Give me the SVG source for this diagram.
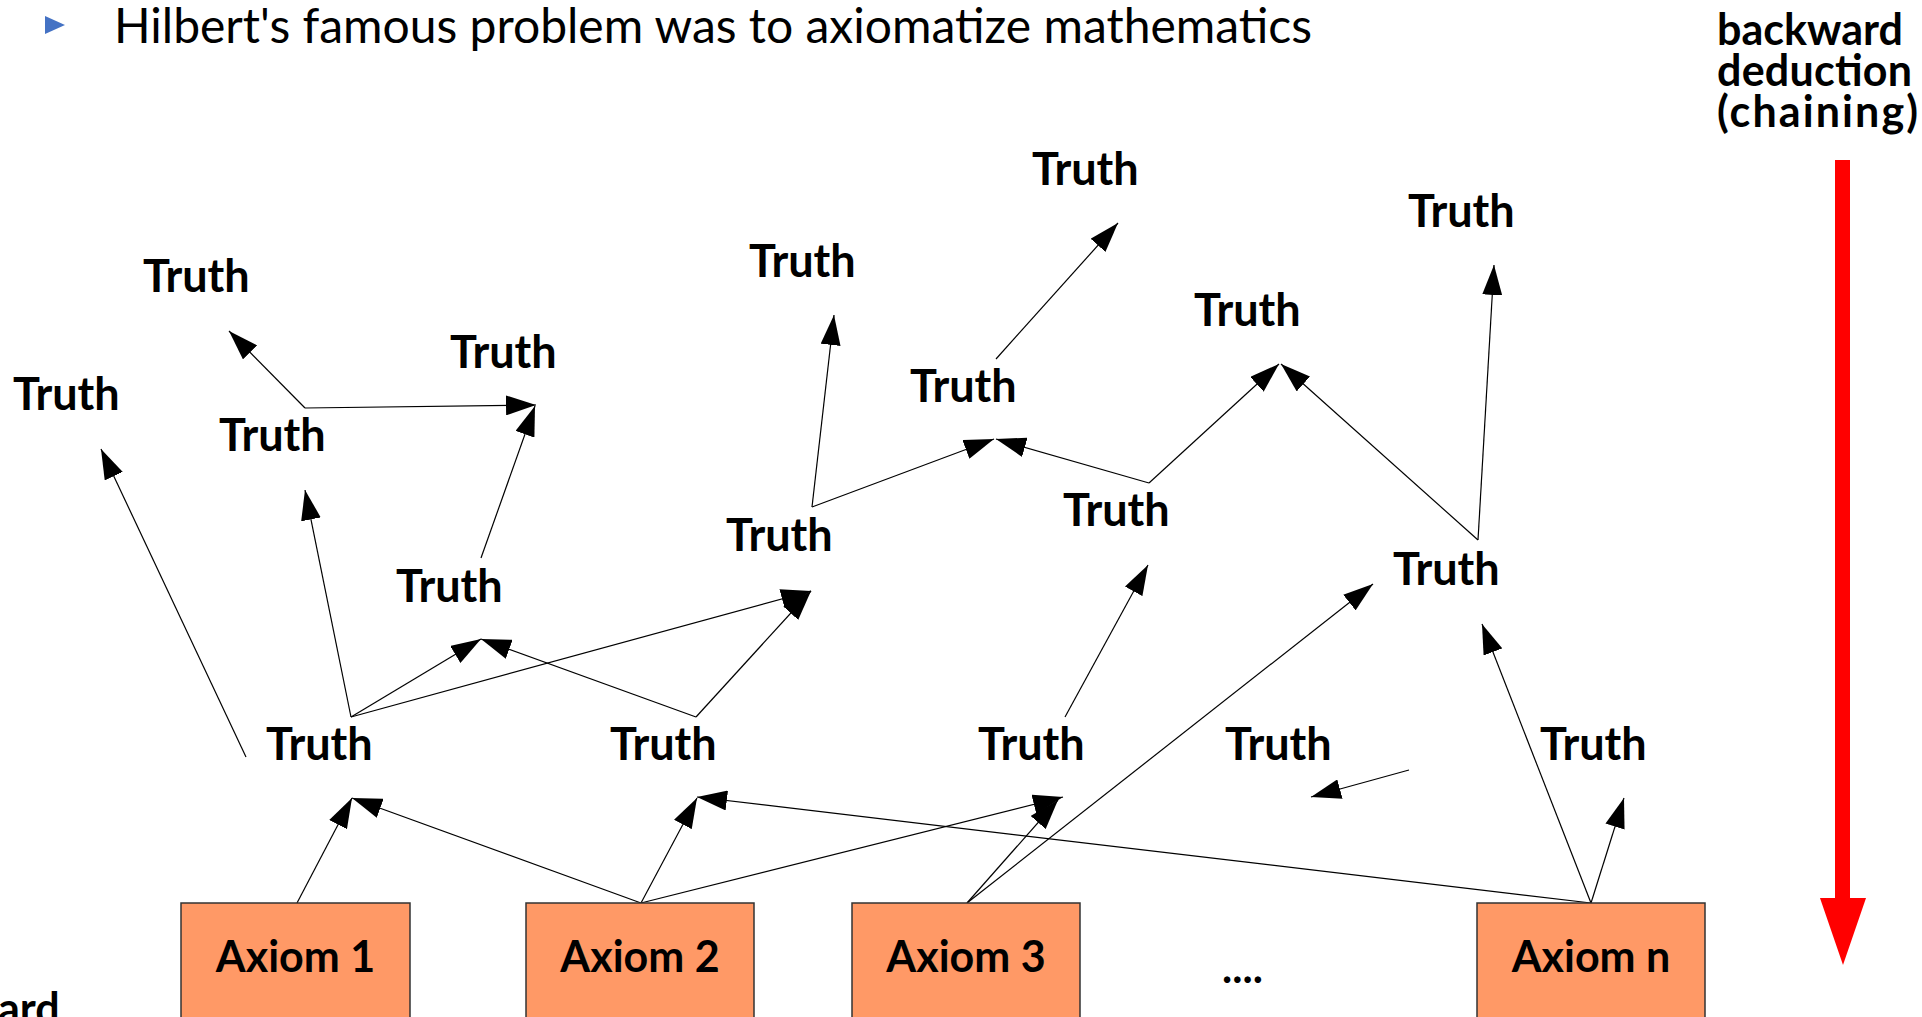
<svg xmlns="http://www.w3.org/2000/svg" width="1922" height="1017" viewBox="0 0 1922 1017">
<style>
.t{font-family:Lato,"Open Sans",sans-serif;font-weight:bold;font-size:45px;fill:#000}
.a{font-family:Lato,"Open Sans",sans-serif;font-weight:bold;font-size:43px;fill:#000}
.title{font-family:Lato,"Open Sans",sans-serif;font-size:48px;fill:#000}
.box{fill:#FF9966;stroke:#333;stroke-width:1.5}
.c line{stroke:#000;stroke-width:1.2;fill:none;marker-end:url(#ah)}
</style>
<defs>
<marker id="ah" markerUnits="userSpaceOnUse" markerWidth="30" markerHeight="20" refX="30" refY="10" orient="auto" viewBox="0 0 30 20">
<path d="M0,0 L30,10 L0,20 z" fill="#000"/>
</marker>
</defs>
<rect width="1922" height="1017" fill="#fff"/>
<g id="title">
<polygon points="45,16 65,25 45,34" fill="#4472C4"/>
<text class="title" x="114" y="43">Hilbert's famous problem was to axiomatize mathematics</text>
</g>
<g id="backward-label">
<text class="a" x="1717" y="45" textLength="186">backward</text>
<text class="a" x="1717" y="86" textLength="195">deduction</text>
<text class="a" x="1717" y="127" textLength="201">(chaining)</text>
</g>
<g id="red-arrow">
<rect x="1835" y="160" width="15" height="740" fill="#FF0000"/>
<polygon points="1820,898 1866,898 1843,965" fill="#FF0000"/>
</g>
<g id="forward-label"><text class="a" x="-2" y="1024">ard</text></g>
<g class="c" id="connectors">
<line x1="297" y1="903" x2="352" y2="798"/>
<line x1="641" y1="903" x2="352" y2="798"/>
<line x1="641" y1="903" x2="697" y2="798"/>
<line x1="641" y1="903" x2="1063" y2="797"/>
<line x1="1591" y1="903" x2="697" y2="797"/>
<line x1="967" y1="903" x2="1058" y2="800"/>
<line x1="967" y1="903" x2="1373" y2="584"/>
<line x1="1591" y1="903" x2="1482" y2="624"/>
<line x1="1591" y1="903" x2="1624" y2="798"/>
<line x1="1409" y1="770" x2="1311" y2="797"/>
<line x1="351" y1="717" x2="305" y2="490"/>
<line x1="351" y1="717" x2="481" y2="639"/>
<line x1="351" y1="717" x2="811" y2="591"/>
<line x1="696" y1="717" x2="481" y2="639"/>
<line x1="696" y1="717" x2="811" y2="591"/>
<line x1="246" y1="757" x2="101" y2="449"/>
<line x1="481" y1="558" x2="535" y2="406"/>
<line x1="305" y1="408" x2="229" y2="331"/>
<line x1="305" y1="408" x2="536" y2="405"/>
<line x1="812" y1="507" x2="834" y2="315"/>
<line x1="812" y1="507" x2="994" y2="439"/>
<line x1="1149" y1="483" x2="996" y2="439"/>
<line x1="1149" y1="483" x2="1279" y2="364"/>
<line x1="1478" y1="540" x2="1281" y2="364"/>
<line x1="1478" y1="540" x2="1494" y2="265"/>
<line x1="996" y1="359" x2="1118" y2="223"/>
<line x1="1065" y1="717" x2="1148" y2="565"/>
</g>
<g id="axiom1"><rect class="box" x="181" y="903" width="229" height="140"/><text class="a" x="295.5" y="972" text-anchor="middle">Axiom 1</text></g>
<g id="axiom2"><rect class="box" x="526" y="903" width="228" height="140"/><text class="a" x="640" y="972" text-anchor="middle">Axiom 2</text></g>
<g id="axiom3"><rect class="box" x="852" y="903" width="228" height="140"/><text class="a" x="966" y="972" text-anchor="middle">Axiom 3</text></g>
<g id="axiomn"><rect class="box" x="1477" y="903" width="228" height="140"/><text class="a" x="1591" y="972" text-anchor="middle">Axiom n</text></g>
<g id="dots"><text class="a" x="1222" y="983">....</text></g>
<g id="truth1"><text class="t" x="143" y="292">Truth</text></g>
<g id="truth2"><text class="t" x="13" y="410">Truth</text></g>
<g id="truth3"><text class="t" x="219" y="451">Truth</text></g>
<g id="truth4"><text class="t" x="450" y="368">Truth</text></g>
<g id="truth5"><text class="t" x="396" y="602">Truth</text></g>
<g id="truth6"><text class="t" x="749" y="277">Truth</text></g>
<g id="truth7"><text class="t" x="1032" y="185">Truth</text></g>
<g id="truth8"><text class="t" x="910" y="402">Truth</text></g>
<g id="truth9"><text class="t" x="726" y="551">Truth</text></g>
<g id="truth10"><text class="t" x="1194" y="326">Truth</text></g>
<g id="truth11"><text class="t" x="1063" y="526">Truth</text></g>
<g id="truth12"><text class="t" x="1408" y="227">Truth</text></g>
<g id="truth13"><text class="t" x="1393" y="585">Truth</text></g>
<g id="truth14"><text class="t" x="266" y="760">Truth</text></g>
<g id="truth15"><text class="t" x="610" y="760">Truth</text></g>
<g id="truth16"><text class="t" x="978" y="760">Truth</text></g>
<g id="truth17"><text class="t" x="1225" y="760">Truth</text></g>
<g id="truth18"><text class="t" x="1540" y="760">Truth</text></g>
</svg>
